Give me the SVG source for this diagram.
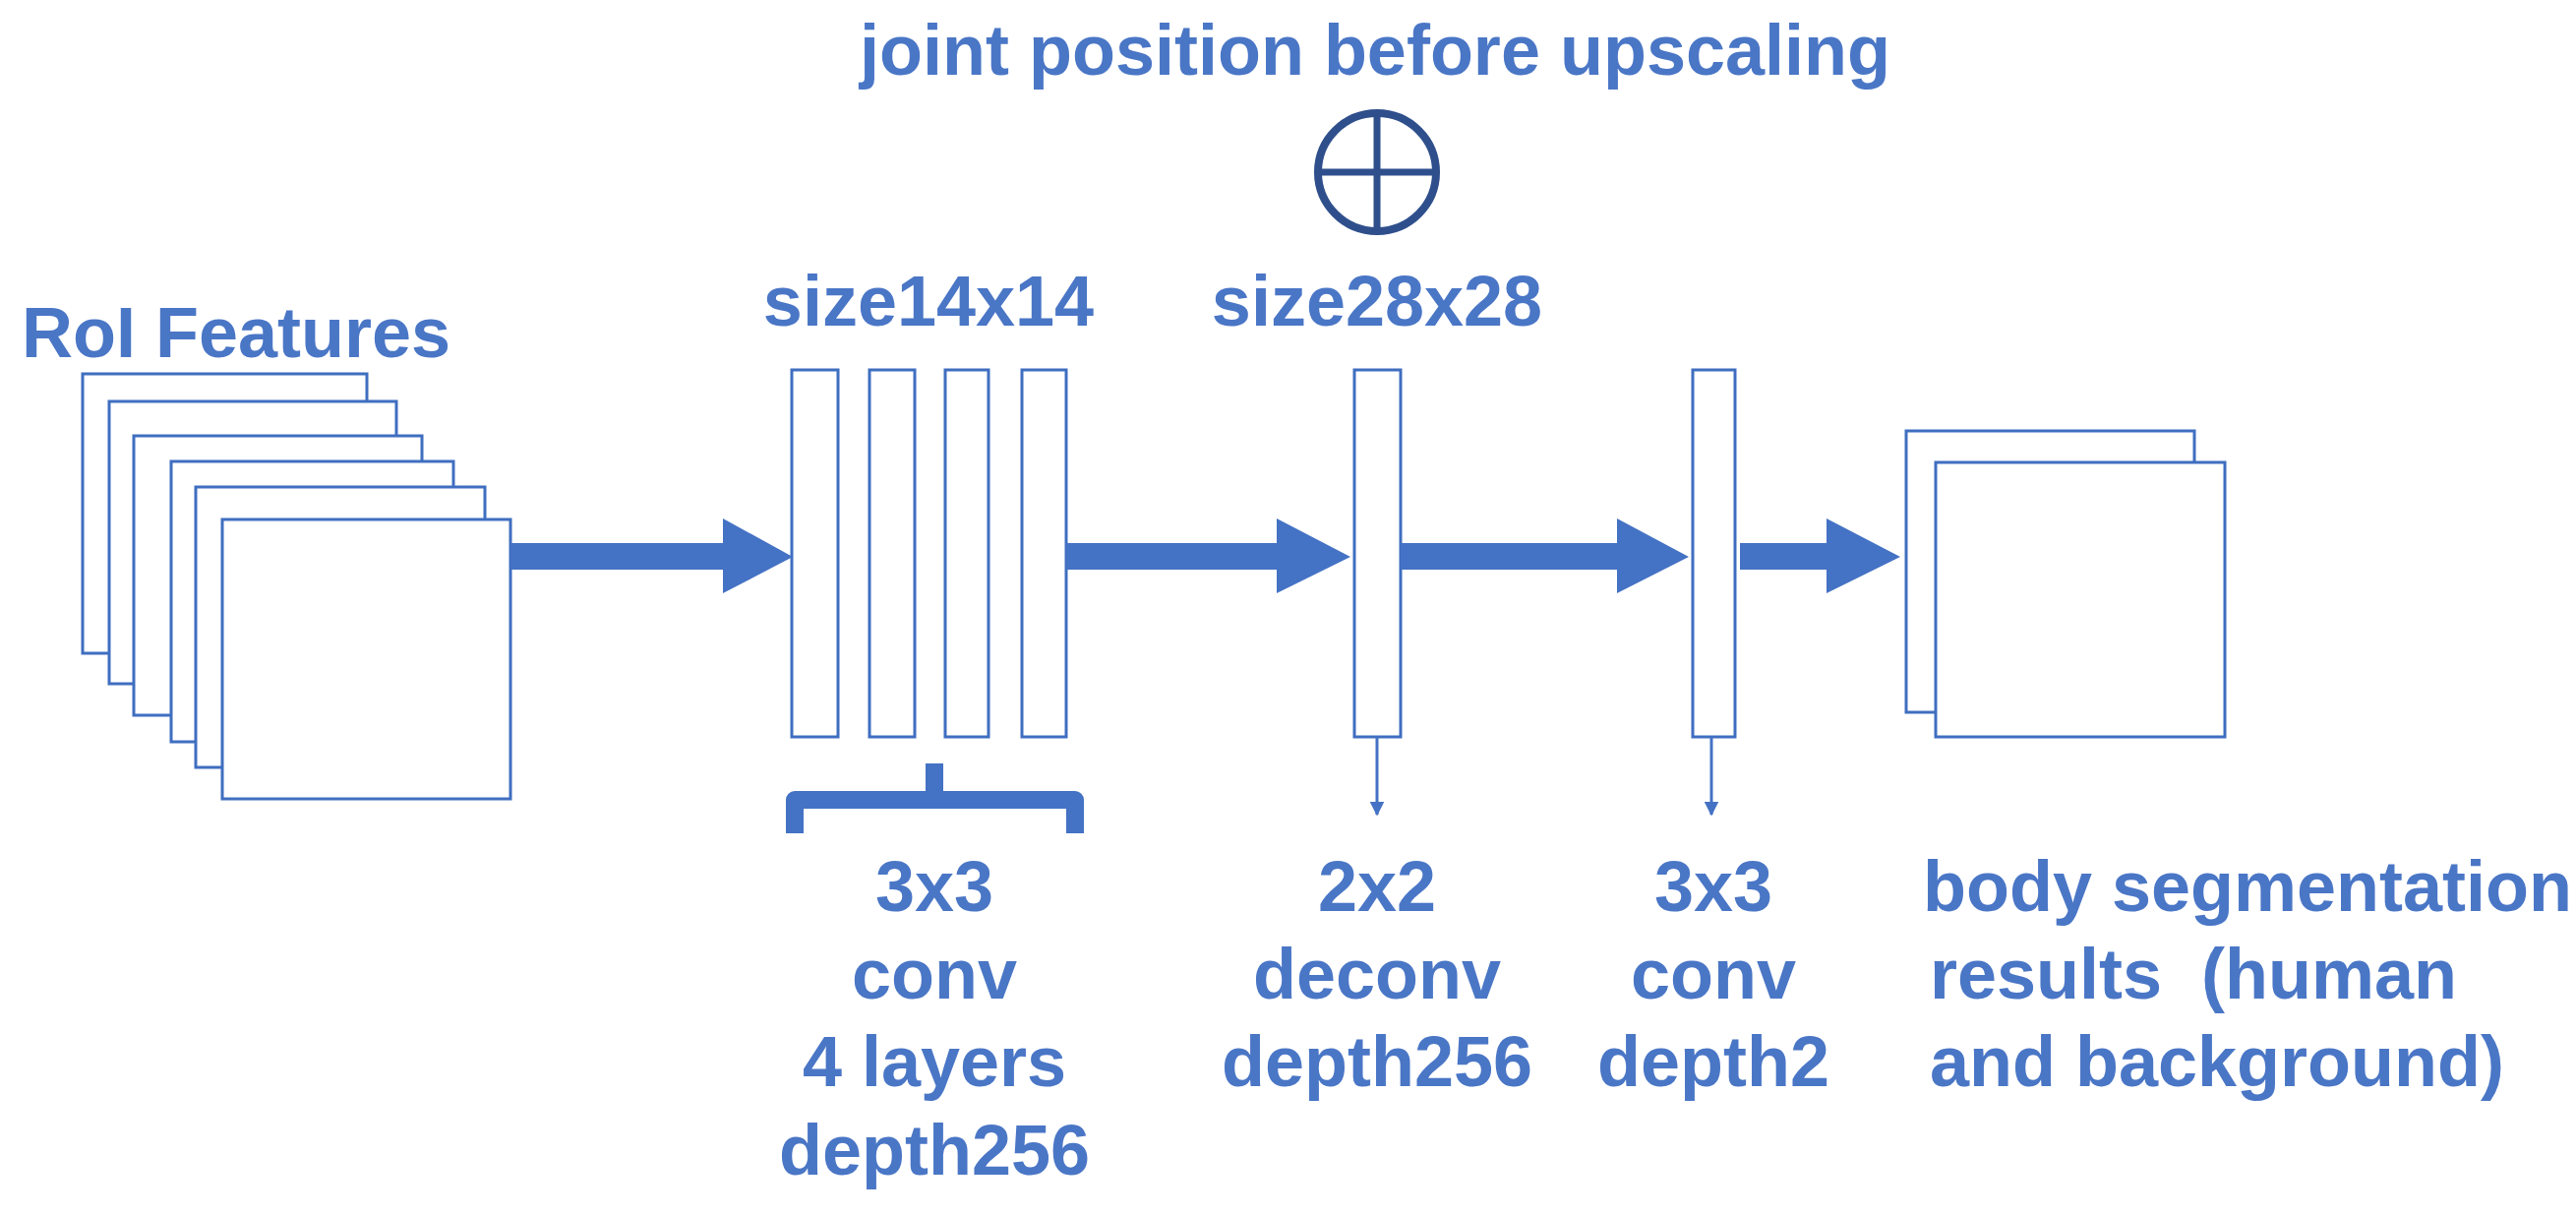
<svg xmlns="http://www.w3.org/2000/svg" width="2619" height="1236" viewBox="0 0 2619 1236">
<style>
text{font-family:"Liberation Sans",Arial,sans-serif;font-weight:bold;fill:#4A76C6;font-size:72px}
.c{text-anchor:middle}
.box{fill:#fff;stroke:#3F6EC0;stroke-width:3}
.arr{fill:#4472C4}
.thin{stroke:#4472C4;stroke-width:3;fill:none}
</style>
<defs>
<marker id="sm" viewBox="0 0 10 10" refX="9" refY="5" markerWidth="5" markerHeight="5" orient="auto"><path d="M0,0 L10,5 L0,10 z" fill="#4472C4"/></marker>
</defs>
<rect width="2619" height="1236" fill="#fff"/>
<text x="1398" y="76" class="c">joint position before upscaling</text>
<g id="plus"><circle cx="1400" cy="175" r="60" fill="none" stroke="#2F4F8C" stroke-width="8"/><path d="M1400 115V235M1340 175H1460" stroke="#2F4F8C" stroke-width="7"/></g>
<g id="roi">
<text x="22" y="363">RoI Features</text>
<rect class="box" x="84" y="380" width="289" height="284"/>
<rect class="box" x="111" y="408" width="292" height="287"/>
<rect class="box" x="136" y="443" width="293" height="284"/>
<rect class="box" x="174" y="469" width="287" height="285"/>
<rect class="box" x="199" y="495" width="294" height="285"/>
<rect class="box" x="226" y="528" width="293" height="284"/>
</g>
<g id="conv">
<text x="944" y="331" class="c">size14x14</text>
<rect class="box" x="805" y="376" width="47" height="373"/>
<rect class="box" x="884" y="376" width="46" height="373"/>
<rect class="box" x="961" y="376" width="44" height="373"/>
<rect class="box" x="1039" y="376" width="45" height="373"/>
<path d="M808 847V813H1093V847M950 813V776" fill="none" stroke="#4472C4" stroke-width="18" stroke-linejoin="round"/>
<text x="950" y="926" class="c">3x3</text>
<text x="950" y="1015" class="c">conv</text>
<text x="950" y="1104" class="c">4 layers</text>
<text x="950" y="1194" class="c">depth256</text>
</g>
<g id="deconv">
<text x="1400" y="331" class="c">size28x28</text>
<rect class="box" x="1377" y="376" width="47" height="373"/>
<text x="1400" y="926" class="c">2x2</text>
<text x="1400" y="1015" class="c">deconv</text>
<text x="1400" y="1104" class="c">depth256</text>
</g>
<g id="conv2">
<rect class="box" x="1721" y="376" width="43" height="373"/>
<text x="1742" y="926" class="c">3x3</text>
<text x="1742" y="1015" class="c">conv</text>
<text x="1742" y="1104" class="c">depth2</text>
</g>
<g id="result">
<rect class="box" x="1938" y="438" width="293" height="286"/>
<rect class="box" x="1968" y="470" width="294" height="279"/>
<text x="1955" y="926">body segmentation</text>
<text x="1962" y="1015" xml:space="preserve">results  (human</text>
<text x="1962" y="1104">and background)</text>
</g>
<g id="connectors">
<path class="arr" d="M519 552H735V527L806 566L735 603V579H519Z"/>
<path class="arr" d="M1084 552H1298V527L1373 566L1298 603V579H1084Z"/>
<path class="arr" d="M1424 552H1644V527L1717 566L1644 603V579H1424Z"/>
<path class="arr" d="M1769 552H1857V527L1932 566L1857 603V579H1769Z"/>
<path class="thin" d="M1400 749V828" marker-end="url(#sm)"/>
<path class="thin" d="M1740 749V828" marker-end="url(#sm)"/>
</g>
</svg>
